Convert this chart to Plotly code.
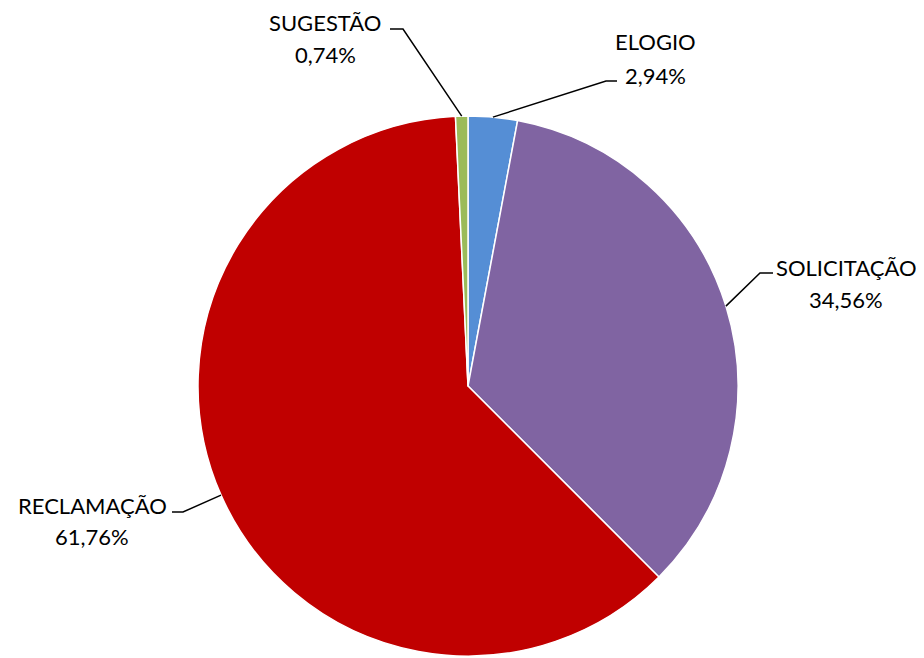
import math
import plotly.graph_objects as go

categories = ["ELOGIO", "SOLICITAÇÃO", "RECLAMAÇÃO", "SUGESTÃO"]
values = [2.94, 34.56, 61.76, 0.74]
colors = ["#558ED5", "#8064A2", "#C00000", "#9BBB59"]

W, H = 924, 658
OFF = 8  # page body margin
cx, cy, R = 468, 386, 270  # pie centre and radius in screen pixels

# label layout (screen pixels): text centre, elbow, line end
label_layout = {
    "ELOGIO": dict(tx=655, ty1=42, ty2=75, elbow=(606, 81), end=(617, 81)),
    "SOLICITAÇÃO": dict(tx=846, ty1=267, ty2=299, elbow=(760, 273), end=(773, 273)),
    "RECLAMAÇÃO": dict(tx=92, ty1=505, ty2=536, elbow=(183, 512), end=(172, 512)),
    "SUGESTÃO": dict(tx=325, ty1=22, ty2=55, elbow=(403, 29), end=(390, 29)),
}

def px(x):
    return (x - OFF) / W

def py(y):
    return 1 - (y - OFF) / H

fig = go.Figure(go.Pie(
    labels=categories, values=values, sort=False, direction="clockwise",
    rotation=0, marker=dict(colors=colors, line=dict(color="white", width=1.5)),
    textinfo="none", hoverinfo="label+percent", showlegend=False,
    domain=dict(x=[px(cx - R), px(cx + R)], y=[py(cy + R), py(cy - R)]),
))

total = sum(values)
cum = 0.0
shapes, annotations = [], []
font = dict(family="Lato, Carlito, Calibri, sans-serif", size=22, color="#000000")
for cat, v in zip(categories, values):
    mid = (cum + v / 2) / total * 2 * math.pi
    cum += v
    ex, ey = cx + R * math.sin(mid), cy - R * math.cos(mid)
    L = label_layout[cat]
    (bx, by), (fx, fy) = L["elbow"], L["end"]
    path = f"M {px(ex)},{py(ey)} L {px(bx)},{py(by)} L {px(fx)},{py(fy)}"
    shapes.append(dict(type="path", xref="paper", yref="paper", path=path,
                       line=dict(color="black", width=1.5)))
    pct = f"{v / total * 100:.2f}".replace(".", ",") + "%"
    annotations.append(dict(x=px(L["tx"]), y=py(L["ty1"]), xref="paper", yref="paper",
                            text=cat, showarrow=False, font=font,
                            xanchor="center", yanchor="middle"))
    annotations.append(dict(x=px(L["tx"]), y=py(L["ty2"]), xref="paper", yref="paper",
                            text=pct, showarrow=False, font=font,
                            xanchor="center", yanchor="middle"))

fig.update_layout(width=W, height=H, margin=dict(l=0, r=0, t=0, b=0),
                  paper_bgcolor="white", plot_bgcolor="white",
                  shapes=shapes, annotations=annotations)
fig.write_html("out.html")
